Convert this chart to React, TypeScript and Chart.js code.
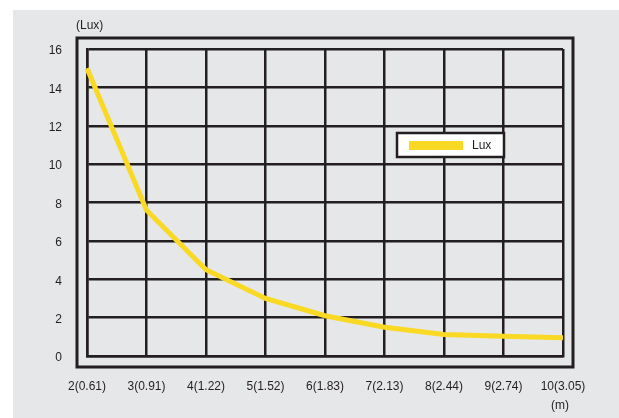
import React, { useEffect, useRef } from "react";
import { Chart, registerables } from "chart.js";

Chart.register(...registerables);

const categories = ["2(0.61)", "3(0.91)", "4(1.22)", "5(1.52)", "6(1.83)", "7(2.13)", "8(2.44)", "9(2.74)", "10(3.05)"];
const luxValues = [15, 7.6, 4.5, 3.0, 2.1, 1.5, 1.12, 1.03, 0.95];
const seriesLabel = "Lux";
const yAxisTitle = "(Lux)";
const xAxisTitle = "(m)";
const yMin = 0;
const yMax = 16;
const yStep = 2;

const INK = "#231f20";
const YELLOW = "#f9d923";
const BG = "#e6e7e8";
const FONT = "'Liberation Sans', Arial, sans-serif";

const decorPlugin = {
  id: "decor",
  beforeDraw(chart: any) {
    const ctx = chart.ctx;
    ctx.save();
    ctx.fillStyle = "#ffffff";
    ctx.fillRect(0, 0, chart.width, chart.height);
    ctx.fillStyle = BG;
    ctx.fillRect(13, 10, chart.width - 13, chart.height - 10);
    const a = chart.chartArea;
    ctx.strokeStyle = INK;
    ctx.lineWidth = 3;
    ctx.strokeRect(a.left - 10, a.top - 11, a.right - a.left + 20, a.bottom - a.top + 22);
    ctx.fillStyle = INK;
    ctx.font = `12px ${FONT}`;
    ctx.textBaseline = "middle";
    ctx.textAlign = "left";
    ctx.fillText(yAxisTitle, a.left - 11, a.top - 23);
    ctx.textAlign = "center";
    ctx.fillText(xAxisTitle, a.right - 3, a.bottom + 50);
    ctx.restore();
  },
  afterDatasetsDraw(chart: any) {
    const ctx = chart.ctx;
    const ds = chart.data.datasets[0];
    ctx.save();
    const x = 397, y = 133, w = 107, h = 24;
    ctx.fillStyle = "#ffffff";
    ctx.fillRect(x, y, w, h);
    ctx.strokeStyle = INK;
    ctx.lineWidth = 2.5;
    ctx.strokeRect(x, y, w, h);
    ctx.fillStyle = ds.borderColor;
    ctx.fillRect(x + 12, y + 8, 54, 9);
    ctx.fillStyle = INK;
    ctx.font = `12px ${FONT}`;
    ctx.textBaseline = "middle";
    ctx.textAlign = "left";
    ctx.fillText(ds.label, x + 75, y + 13);
    ctx.restore();
  },
};

export default function App() {
  const ref = useRef<HTMLCanvasElement | null>(null);
  useEffect(() => {
    document.body.style.margin = "0";
    const chart = new Chart(ref.current as HTMLCanvasElement, {
      type: "line",
      data: {
        labels: categories,
        datasets: [
          {
            label: seriesLabel,
            data: luxValues,
            borderColor: YELLOW,
            backgroundColor: YELLOW,
            borderWidth: 5,
            pointRadius: 0,
            tension: 0,
            borderCapStyle: "butt",
            borderJoinStyle: "miter",
          },
        ],
      },
      options: {
        animation: false,
        responsive: false,
        maintainAspectRatio: false,
        devicePixelRatio: 1,
        layout: { padding: { top: 49, right: 56, bottom: 0, left: 0 } },
        plugins: { legend: { display: false }, tooltip: { enabled: false } },
        scales: {
          x: {
            type: "category",
            offset: false,
            afterFit: (s: any) => { s.height = 62; },
            grid: { color: INK, lineWidth: 2.5, drawTicks: false },
            border: { display: true, color: INK, width: 2.5 },
            ticks: { color: INK, font: { family: FONT, size: 12 }, padding: 23, maxRotation: 0, autoSkip: false },
          },
          y: {
            min: yMin,
            max: yMax,
            afterFit: (s: any) => { s.width = 87; },
            grid: { color: INK, lineWidth: 2.5, drawTicks: false },
            border: { display: true, color: INK, width: 2.5 },
            ticks: { stepSize: yStep, color: INK, font: { family: FONT, size: 12 }, padding: 25, labelOffset: 2 },
          },
        },
      },
      plugins: [decorPlugin],
    } as any);
    return () => chart.destroy();
  }, []);
  return <canvas ref={ref} width={619} height={418} style={{ display: "block" }} />;
}
